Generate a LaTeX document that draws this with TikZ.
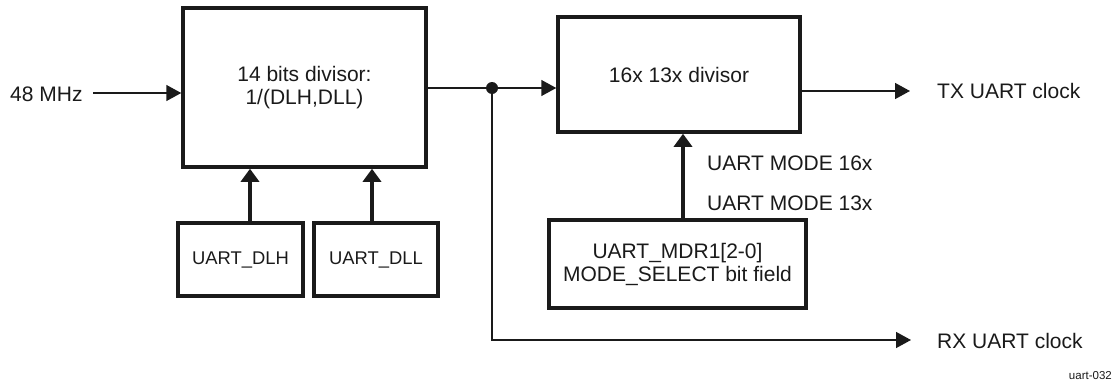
\documentclass[tikz,border=0pt]{standalone}
\usepackage{fontspec}
\setmainfont{Liberation Sans}
\usetikzlibrary{arrows.meta}
\definecolor{ink}{HTML}{1A1A1A}
\tikzset{
  blk/.style={draw=ink, line width=3.5pt, rectangle, inner sep=0pt, align=center,
    text=ink, font=\fontsize{21}{23}\selectfont},
  smallblk/.style={blk, font=\fontsize{18.4}{21}\selectfont},
  lbl/.style={inner sep=0pt, text=ink, font=\fontsize{21}{23}\selectfont},
  thin/.style={draw=ink, line width=1.5pt, -{Triangle[length=15pt,width=16pt]}},
  thinline/.style={draw=ink, line width=1.5pt},
  thick/.style={draw=ink, line width=4.5pt, -{Triangle[length=13pt,width=18pt]}},
}
\begin{document}
\begin{tikzpicture}[x=1pt,y=-1pt]
\useasboundingbox (0,0) rectangle (1114,383);
% blocks
\node[blk, minimum width=243pt, minimum height=159pt] (div14) at (304.5,87.5) {14 bits divisor:\\1/(DLH,DLL)};
\node[blk, minimum width=242pt, minimum height=115pt] (div16) at (679,74.5) {16x 13x divisor};
\node[smallblk, minimum width=125pt, minimum height=73pt] (dlh) at (240.5,259.5) {UART\_DLH};
\node[smallblk, minimum width=124pt, minimum height=73pt] (dll) at (376,259.5) {UART\_DLL};
\node[blk, minimum width=257pt, minimum height=88pt] (mdr) at (677.5,264) {UART\_MDR1[2-0]\\MODE\_SELECT bit field};
% labels
\node[lbl, anchor=west] (mhz) at (10,94) {48 MHz};
\node[lbl, anchor=west] (tx) at (937,91) {TX UART clock};
\node[lbl, anchor=west] (rx) at (937,341) {RX UART clock};
\node[lbl, anchor=west] (m16) at (707,163) {UART MODE 16x};
\node[lbl, anchor=west] (m13) at (707,203) {UART MODE 13x};
\node[inner sep=0pt, anchor=east, text=ink, font=\fontsize{11.5}{13}\selectfont] (tag) at (1112,376) {uart-032};
% coordinates
\coordinate (in0) at (93,93);
\coordinate (split) at (492,88);
\coordinate (txo) at (800,91);
\coordinate (txend) at (910,91);
\coordinate (rxcorner) at (492,340);
\coordinate (rxend) at (911,340);
% connectors
\draw[thin] (in0) -- (in0 -| div14.west);
\draw[thinline] (div14.east |- split) -- (split);
\draw[thin] (split) -- (split -| div16.west);
\draw[thin] (txo) -- (txend);
\draw[thin] (split) -- (rxcorner) -- (rxend);
\fill[ink] (split) circle (6pt);
\draw[thick] (dlh.north -| 250,0) -- (div14.south -| 250,0);
\draw[thick] (dll.north -| 372,0) -- (div14.south -| 372,0);
\draw[thick] (mdr.north -| 683,0) -- (div16.south -| 683,0);
\end{tikzpicture}
\end{document}
